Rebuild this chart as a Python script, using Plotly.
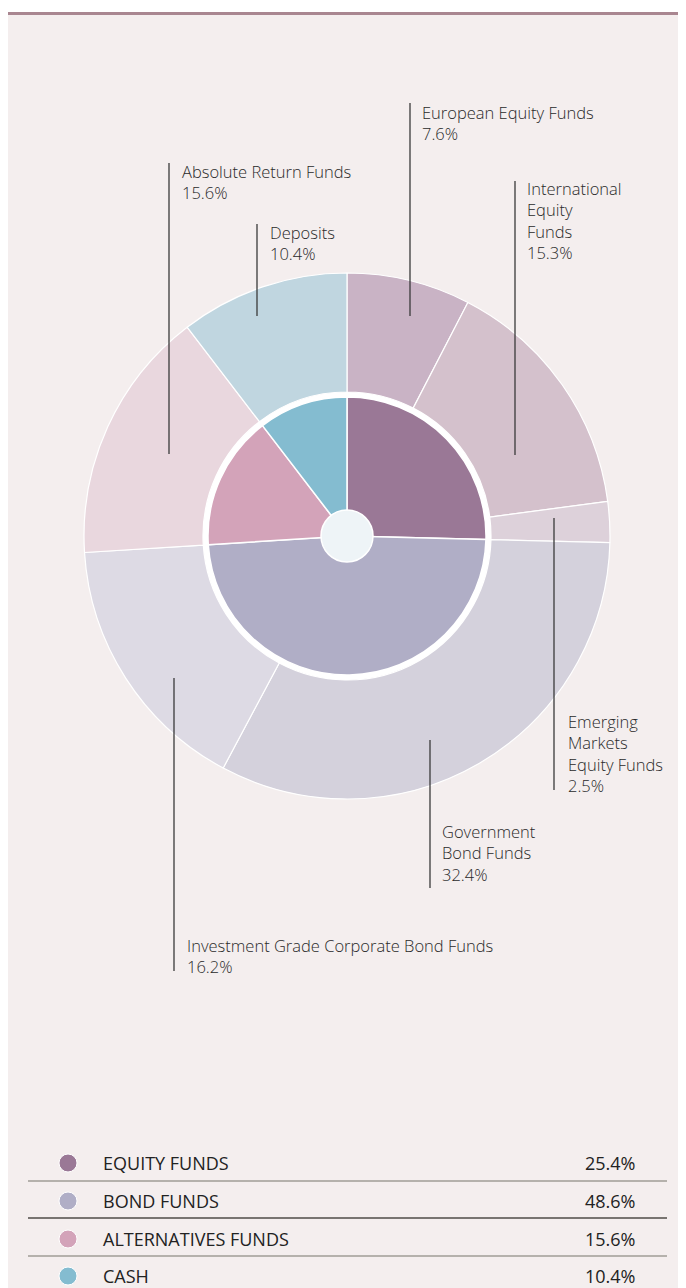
import plotly.graph_objects as go

# The page body has an 8px margin, so the figure is drawn from (8, 8) of the window.
OFF = 8
W, H = 686 - OFF, 1288 - OFF

# ---- data ----
outer_labels = ["European Equity Funds", "International Equity Funds", "Emerging Markets Equity Funds",
                "Government Bond Funds", "Investment Grade Corporate Bond Funds",
                "Absolute Return Funds", "Deposits"]
outer_values = [7.6, 15.3, 2.5, 32.4, 16.2, 15.6, 10.4]
outer_colors = ["#c9b3c5", "#d4c1cc", "#ddd1da", "#d4d1dc", "#dddae4", "#e9d7de", "#c0d6e0"]

inner_labels = ["EQUITY FUNDS", "BOND FUNDS", "ALTERNATIVES FUNDS", "CASH"]
inner_values = [25.4, 48.6, 15.6, 10.4]
inner_colors = ["#9a7896", "#b0aec6", "#d3a3b9", "#84bcd0"]

# label display text (line-broken as in the reference)
outer_text = ["European Equity Funds", "International<br>Equity<br>Funds", "Emerging<br>Markets<br>Equity Funds",
              "Government<br>Bond Funds", "Investment Grade Corporate Bond Funds",
              "Absolute Return Funds", "Deposits"]


def px(x):
    return (x - OFF) / W


def py(y):
    return 1 - (y - OFF) / H


CX, CY = 347, 536
R_OUT, R_HOLE, R_IN, R_CENTER = 263, 144, 139, 26
FONT = "Open Sans, Noto Sans, sans-serif"

fig = go.Figure()
fig.add_trace(go.Pie(
    labels=outer_labels, values=outer_values, sort=False, direction="clockwise", rotation=0,
    hole=R_HOLE / R_OUT, textinfo="none", hoverinfo="label+percent",
    marker=dict(colors=outer_colors, line=dict(color="white", width=1.2)),
    domain=dict(x=[px(CX - R_OUT), px(CX + R_OUT)], y=[py(CY + R_OUT), py(CY - R_OUT)]),
    showlegend=False,
))
fig.add_trace(go.Pie(
    labels=inner_labels, values=inner_values, sort=False, direction="clockwise", rotation=0,
    textinfo="none", hoverinfo="label+percent",
    marker=dict(colors=inner_colors, line=dict(color="white", width=1.5)),
    domain=dict(x=[px(CX - R_IN), px(CX + R_IN)], y=[py(CY + R_IN), py(CY - R_IN)]),
    showlegend=False,
))

shapes = []
# page background and top rule
shapes.append(dict(type="rect", xref="paper", yref="paper", x0=px(6), x1=px(686), y0=py(1288), y1=py(12),
                   fillcolor="#f4eeee", line=dict(width=0), layer="below"))
shapes.append(dict(type="line", xref="paper", yref="paper", x0=px(6), x1=px(686), y0=py(13.5), y1=py(13.5),
                   line=dict(color="#a98690", width=3), layer="below"))
# white ring behind inner pie
shapes.append(dict(type="circle", xref="paper", yref="paper",
                   x0=px(CX - R_HOLE), x1=px(CX + R_HOLE), y0=py(CY + R_HOLE), y1=py(CY - R_HOLE),
                   fillcolor="white", line=dict(width=0), layer="below"))
# center disc
shapes.append(dict(type="circle", xref="paper", yref="paper",
                   x0=px(CX - R_CENTER), x1=px(CX + R_CENTER), y0=py(CY + R_CENTER), y1=py(CY - R_CENTER),
                   fillcolor="#eef4f7", line=dict(color="white", width=1.5), layer="above"))

# leader lines: (x, y_top, y_bottom)
leaders = [(410, 103, 316), (515, 181, 455), (554, 518, 790), (430, 740, 888),
           (174, 678, 971), (169, 163, 454), (257, 224, 316)]
for lx, y0, y1 in leaders:
    shapes.append(dict(type="line", xref="paper", yref="paper", x0=px(lx), x1=px(lx), y0=py(y0), y1=py(y1),
                       line=dict(color="#3a3a3a", width=1.3), layer="above"))

annotations = []
# label positions: (x_left, y_first_line_center)
label_pos = [(421, 112), (526, 188), (567, 721), (441, 832), (186, 945), (181, 171), (269, 232)]
LSIZE = 16.5
LINE_H = 1.3 * LSIZE
for (lx, ly), txt, val in zip(label_pos, outer_text, outer_values):
    full = f"{txt}<br>{val:.1f}%"
    n = full.count("<br>") + 1
    annotations.append(dict(xref="paper", yref="paper", x=px(lx - 1), y=py(ly + (n - 1) * LINE_H / 2),
                            text=full, showarrow=False, xanchor="left", yanchor="middle", align="left",
                            font=dict(family=FONT, size=LSIZE, color="#2a2a2a", weight=300)))

# legend table
row_y = [1163, 1201, 1239, 1276]
sep_y = [1181, 1218, 1256]
sep_col = ["#a09c96", "#4f4b47", "#a09c96"]
for y, c in zip(sep_y, sep_col):
    shapes.append(dict(type="line", xref="paper", yref="paper", x0=px(28), x1=px(667), y0=py(y), y1=py(y),
                       line=dict(color=c, width=1.3), layer="above"))
for y, lab, val, col in zip(row_y, inner_labels, inner_values, inner_colors):
    shapes.append(dict(type="circle", xref="paper", yref="paper", x0=px(59), x1=px(77), y0=py(y + 9), y1=py(y - 9),
                       fillcolor=col, line=dict(color="white", width=1), layer="above"))
    annotations.append(dict(xref="paper", yref="paper", x=px(101), y=py(y), text=lab, showarrow=False,
                            xanchor="left", yanchor="middle",
                            font=dict(family=FONT, size=18, color="#222222")))
    annotations.append(dict(xref="paper", yref="paper", x=px(637), y=py(y), text=f"{val:.1f}%", showarrow=False,
                            xanchor="right", yanchor="middle",
                            font=dict(family=FONT, size=18, color="#222222")))

fig.update_layout(width=W, height=H, margin=dict(l=0, r=0, t=0, b=0), paper_bgcolor="white",
                  plot_bgcolor="white", shapes=shapes, annotations=annotations, showlegend=False)
fig.write_html("out.html")
